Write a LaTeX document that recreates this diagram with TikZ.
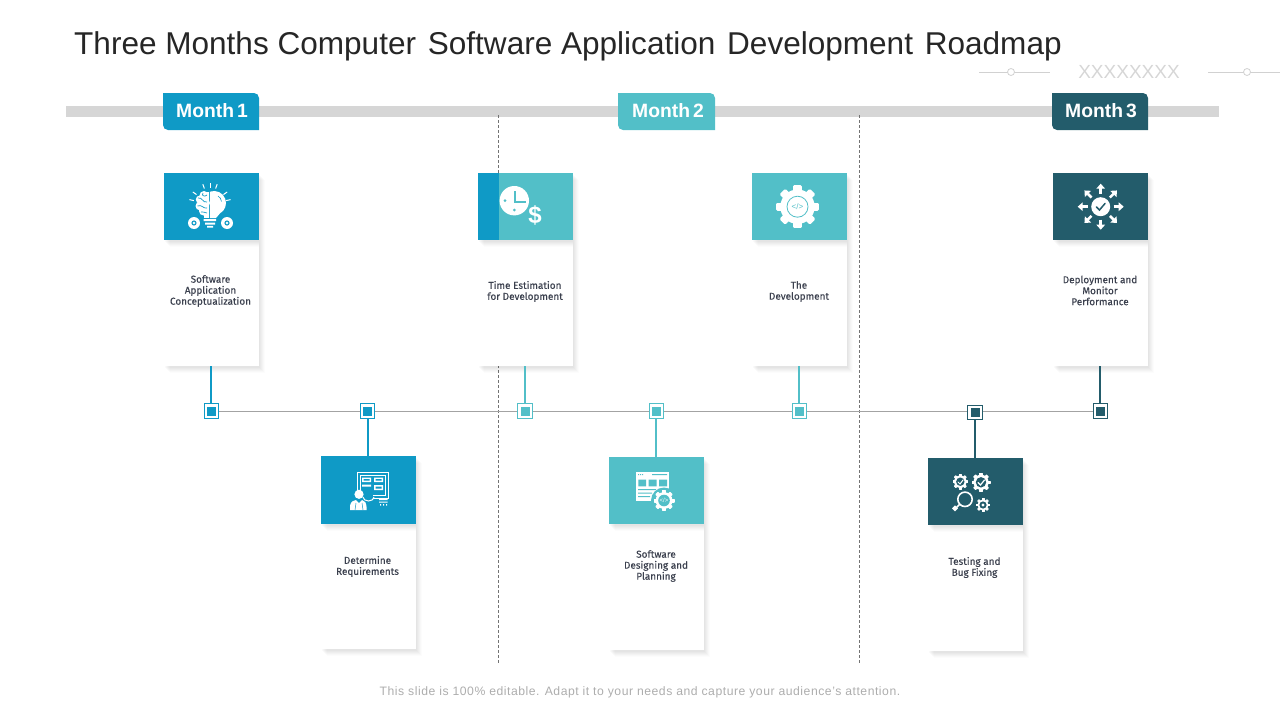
\documentclass[tikz,border=0pt]{standalone}
\usepackage{fontspec}
\usepackage{tikz}
\usetikzlibrary{shadows,arrows.meta}
\setmainfont{Liberation Sans}
\newfontfamily\cardfont[FakeBold=0.2]{Fira Sans}

\definecolor{monthblue}{HTML}{0F9AC6}
\definecolor{monthteal}{HTML}{52BFC8}
\definecolor{monthdark}{HTML}{235C6B}
\definecolor{cardink}{HTML}{3B404E}

\tikzset{
	softshadow/.style={
		general shadow={shadow xshift=6pt,shadow yshift=-7pt,fill=black,opacity=.012},
		general shadow={shadow xshift=5pt,shadow yshift=-6pt,fill=black,opacity=.016},
		general shadow={shadow xshift=4pt,shadow yshift=-5pt,fill=black,opacity=.018},
		general shadow={shadow xshift=3pt,shadow yshift=-4pt,fill=black,opacity=.02},
		general shadow={shadow xshift=2pt,shadow yshift=-3pt,fill=black,opacity=.02},
		general shadow={shadow xshift=1pt,shadow yshift=-2pt,fill=black,opacity=.02}},
	cardbody/.style={rectangle,fill=white,anchor=north west,inner sep=0pt,minimum width=94.5pt,softshadow},
	cardhead/.style={rectangle,fill=#1,anchor=north west,inner sep=0pt,minimum width=94.5pt,softshadow},
	cardtext/.style={font=\cardfont\fontsize{9.95}{11}\selectfont,text=cardink,align=center,inner sep=0pt},
	monthlabel/.style={font=\bfseries\fontsize{19.3}{20}\selectfont,text=white,inner sep=0pt},
	stone/.style={rectangle,draw=#1,fill=white,line width=1pt,minimum size=14.5pt,inner sep=0pt,
		label={[rectangle,fill=#1,minimum size=9pt,inner sep=0pt]center:{}}},
	stem/.style={draw=#1,line width=2pt},
	timeline/.style={draw=black!36,line width=1pt},
	monthdash/.style={draw=black!55,line width=.8pt,dash pattern=on 3pt off 2pt},
	deco/.style={draw=black!18,line width=.8pt}
}

\newcommand{\gearicon}[5]{%
	\foreach \a in {0,45,...,315}
		\fill[white,draw=white,line join=round,line width={.12pt*#3},shift={(#1,#2)},rotate=\a] (-.13*#3,.6*#3) rectangle (.13*#3,.94*#3);
	\fill[white] (#1,#2) circle ({.8*#3});
	\fill[#4] (#1,#2) circle (#5);
}

\begin{document}
\begin{tikzpicture}[x=1pt,y=-1pt]
	\useasboundingbox (0,0) rectangle (1280,720);
	\node[anchor=west,inner sep=0pt,text=black!85,font=\fontsize{31.55}{34}\selectfont] (title) at (74,46) {Three Months Computer\hspace{3pt} Software Application\hspace{3pt} Development\hspace{3pt} Roadmap};

	% top right marks
	\coordinate (l1) at (979,72);
	\coordinate (r1) at (1050,72);
	\coordinate (l2) at (1208,72);
	\coordinate (r2) at (1280,72);
	\draw[deco] (l1) -- (r1);
	\draw[deco] (l2) -- (r2);
	\node[circle,deco,fill=white,minimum size=7pt,inner sep=0pt] (o1) at (1011,72) {};
	\node[circle,deco,fill=white,minimum size=7pt,inner sep=0pt] (o2) at (1247,72) {};
	\node[text=black!16,font=\fontsize{19}{20}\selectfont,inner sep=0pt] (xx) at (1129,72) {XXXXXXXX};

	% month bar
	\node[rectangle,fill=black!16,minimum width=1153pt,minimum height=11pt,inner sep=0pt,anchor=north west] (bar) at (66,106) {};
	\coordinate (d1t) at (498.5,115);
	\coordinate (d1b) at (498.5,663);
	\coordinate (d2t) at (859,115);
	\coordinate (d2b) at (859,663);
	\draw[monthdash] (d1t) -- (d1b);
	\draw[monthdash] (d2t) -- (d2b);

	\fill[monthblue] (163,93) [rounded corners=5pt] -- (259,93) [sharp corners] -- (259,130) [rounded corners=5pt] -- (163,130) [sharp corners] -- cycle;
	\fill[monthteal] (618,93) [rounded corners=5pt] -- (715,93) [sharp corners] -- (715,130) [rounded corners=5pt] -- (618,130) [sharp corners] -- cycle;
	\fill[monthdark] (1052,93) [rounded corners=5pt] -- (1148,93) [sharp corners] -- (1148,130) [rounded corners=5pt] -- (1052,130) [sharp corners] -- cycle;
	\node[monthlabel] (m1) at (212,111) {Month\hspace{3pt}1};
	\node[monthlabel] (m2) at (668,111) {Month\hspace{3pt}2};
	\node[monthlabel] (m3) at (1101,111) {Month\hspace{3pt}3};

	% cards
	\node[cardbody,minimum height=126pt] (b1) at (164,240) {};
	\node[cardbody,minimum height=126pt] (b2) at (478,240) {};
	\node[cardbody,minimum height=126pt] (b3) at (752,240) {};
	\node[cardbody,minimum height=126pt] (b4) at (1053,240) {};
	\node[cardbody,minimum height=125pt] (b5) at (321,524) {};
	\node[cardbody,minimum height=126pt] (b6) at (609,524) {};
	\node[cardbody,minimum height=126pt] (b7) at (928,525) {};
	\node[cardhead=monthblue,minimum height=67pt] (h1) at (164,173) {};
	\node[cardhead=monthteal,minimum height=67pt] (h2) at (478,173) {};
	\node[rectangle,fill=monthblue,anchor=north west,inner sep=0pt,minimum width=21pt,minimum height=67pt] (h2s) at (478,173) {};
	\node[cardhead=monthteal,minimum height=67pt] (h3) at (752,173) {};
	\node[cardhead=monthdark,minimum height=67pt] (h4) at (1053,173) {};
	\node[cardhead=monthblue,minimum height=68pt] (h5) at (321,456) {};
	\node[cardhead=monthteal,minimum height=67pt] (h6) at (609,457) {};
	\node[cardhead=monthdark,minimum height=67pt] (h7) at (928,458) {};
	\node[cardtext] (t1) at (210.5,291) {Software\\Application\\Conceptualization};
	\node[cardtext] (t2) at (525,291.5) {Time Estimation\\for Development};
	\node[cardtext] (t3) at (799,291.5) {The\\Development};
	\node[cardtext] (t4) at (1100,290.5) {Deployment and\\Monitor\\Performance};
	\node[cardtext] (t5) at (367.5,566.5) {Determine\\Requirements};
	\node[cardtext] (t6) at (656,566) {Software\\Designing and\\Planning};
	\node[cardtext] (t7) at (974.5,567.5) {Testing and\\Bug Fixing};

	% timeline
	\node[stone=monthblue] (s1) at (211.5,411) {};
	\node[stone=monthblue] (s2) at (367.7,411) {};
	\node[stone=monthteal] (s3) at (525,411) {};
	\node[stone=monthteal] (s4) at (656.3,411) {};
	\node[stone=monthteal] (s5) at (799.7,411) {};
	\node[stone=monthdark] (s6) at (975,412.5) {};
	\node[stone=monthdark] (s7) at (1100.5,411) {};
	\draw[timeline] (s1) -- (s2);
	\draw[timeline] (s2) -- (s3);
	\draw[timeline] (s3) -- (s4);
	\draw[timeline] (s4) -- (s5);
	\draw[timeline] (s5) -- (s5 -| s6.west);
	\draw[timeline] (s6.east |- s7) -- (s7);
	\draw[stem=monthblue] (b1.south) -- (b1.south |- s1.north);
	\draw[stem=monthteal] (b2.south) -- (b2.south |- s3.north);
	\draw[stem=monthteal] (b3.south) -- (b3.south |- s5.north);
	\draw[stem=monthdark] (b4.south) -- (b4.south |- s7.north);
	\draw[stem=monthblue] (h5.north) -- (h5.north |- s2.south);
	\draw[stem=monthteal] (h6.north) -- (h6.north |- s4.south);
	\draw[stem=monthdark] (h7.north) -- (h7.north |- s6.south);

	% icon: brain and bulb
	\foreach \a in {12,35,70,90,110,145,168}
		\draw[white,line width=1pt,shift={(210,204)},rotate=\a] (16.5,0) -- (21,0);
	\fill[white] (209.9,191.7) arc (-110:60:12) -- (216,218) -- (209.9,218) -- cycle;
	\draw[monthblue,line width=.6pt] (218,196) arc (-60:-5:7);
	\fill[white] (204,195.5) circle (4.5) (199.8,199.5) circle (4) (199.8,206) circle (4.3) (203.5,211) circle (4.5) (205,203) circle (5);
	\fill[white] (204,191.5) rectangle (208.6,218);
	\draw[monthblue,line width=.7pt] (198,198) .. controls (203,197) and (202,203) .. (207,202) (197.5,206) .. controls (202,204) and (203,209) .. (207,208) (203,193) .. controls (201,196) and (205,197) .. (207,195) (201,212) .. controls (203,211) and (204,213) .. (207,213);
	\fill[white] (203.5,219) rectangle (216,221) (205,222.5) rectangle (215,224.5) (207,225.8) rectangle (213,227.5);
	\fill[white] (194,223) circle (6) (227,223) circle (6);
	\fill[monthblue] (194,223) circle (2.6) (227,223) circle (2.6);
	\fill[white] (194,223) circle (1.3) (227,223) circle (1.3);

	% icon: clock and dollar
	\fill[white] (514.3,200.7) circle (14.7);
	\draw[monthteal,line width=2.2pt] (515,191) -- (515,202) -- (526,202);
	\fill[monthteal] (505,200.7) circle (1.5) (514.3,210) circle (1.5);
	\node[text=white,font=\bfseries\fontsize{24}{24}\selectfont,inner sep=0pt] (dollar) at (535,215) {\$};

	% icon: gear
	\gearicon{797.5}{206.7}{21.5}{white}{16}
	\draw[monthteal,line width=.8pt] (797.5,206.7) circle (10.5);
	\node[text=monthteal,font=\fontsize{8}{8}\selectfont,inner sep=0pt] (code1) at (797.5,206.7) {</>};

	% icon: arrows around a check
	\foreach \a in {0,45,...,315}
		\draw[white,line width=2.5pt,shift={(1100.7,206.7)},rotate=\a,-{Triangle[length=5pt,width=8.5pt]}] (13,0) -- (23,0);
	\fill[white] (1100.7,206.7) circle (9.5);
	\draw[monthdark,line width=1.5pt,line cap=round] (1096.5,207) -- (1099.5,210) -- (1105,203.5);

	% icon: person and board
	\draw[white,line width=1pt] (357.5,472.5) rectangle (388,498);
	\draw[white,line width=.7pt] (360,475) rectangle (385.5,495.5);
	\fill[white] (362,477.5) rectangle (371,482) (374,477.5) rectangle (383,482) (374,485) rectangle (383,490) (362,484.5) rectangle (371,486.5);
	\fill[monthblue] (363.5,479) rectangle (369.5,480.5) (375.5,479) rectangle (381.5,480.5) (375.5,486.5) rectangle (381.5,488.5);
	\fill[monthblue] (355,491) rectangle (373,500);
	\fill[white] (359,494.3) circle (4.6);
	\fill[white] (350,510) -- (350,505.5) .. controls (351,501) and (354,500.5) .. (356,500) -- (359,503) -- (362,500) .. controls (365,500.5) and (366.5,502) .. (366.7,510) -- cycle;
	\draw[monthblue,line width=.5pt] (355,510) -- (356,503) (363,510) -- (362,503);
	\draw[white,line width=1pt] (363,497) arc (180:0:5.5 and 4);
	\fill[white] (379,498.5) rectangle (387.5,500) (379,501.5) rectangle (387.5,502.5) (380,504) rectangle (381,505.5) (383,504) rectangle (384,505.5) (386,504) rectangle (387,505.5);

	% icon: window and gear
	\fill[white] (636,472.3) rectangle (669,501);
	\fill[monthteal] (638.3,479.7) rectangle (646,486.3) (648.5,479.7) rectangle (656.5,486.3) (659,479.7) rectangle (667,486.3);
	\fill[monthteal] (638,474) rectangle (639,475) (640,474) rectangle (641,475) (642,474) rectangle (643,475) (652,474.2) rectangle (667,475);
	\fill[monthteal] (638,489) rectangle (656,490) (638,492.5) rectangle (652,493.5) (638,496) rectangle (650,497);
	\fill[monthteal] (664,500.5) circle (13);
	\gearicon{664}{500.5}{10.5}{monthteal}{5.8}
	\node[text=white,font=\fontsize{6}{6}\selectfont,inner sep=0pt] (code2) at (664,500.5) {</>};

	% icon: gears and lens
	\gearicon{960.3}{481.7}{7.8}{monthdark}{4.2}
	\gearicon{981}{482.3}{9.5}{monthdark}{5.2}
	\gearicon{983}{505}{7}{monthdark}{3.6}
	\fill[white] (983,505) circle (1.6);
	\draw[white,line width=1pt,line cap=round] (958,482) -- (960,484) -- (963,480);
	\draw[white,line width=1.2pt,line cap=round] (978,482.5) -- (980.5,485) -- (984.5,480);
	\draw[white,line width=1.6pt] (965,499.3) circle (7.2);
	\draw[white,line width=1.6pt] (959.5,504.5) -- (956,508);
	\fill[white] (955,505.3) -- (958,508.3) -- (955,511.3) -- (952,508.3) -- cycle;

	\node[text=black!32,font=\fontsize{12.2}{14}\selectfont\addfontfeature{LetterSpace=4.3},inner sep=0pt] (foot) at (640,692.5) {This slide is 100\% editable. Adapt it to your needs and capture your audience's attention.};
\end{tikzpicture}
\end{document}
